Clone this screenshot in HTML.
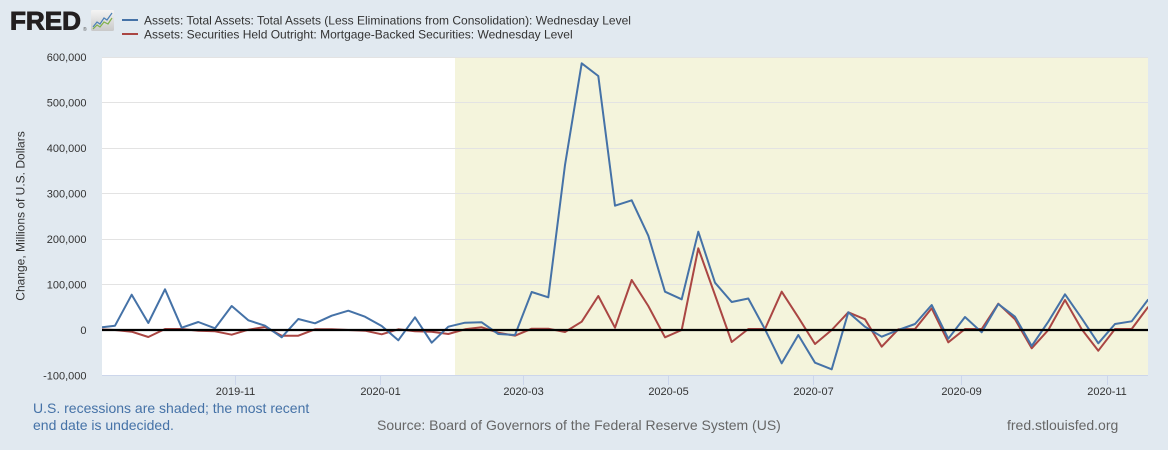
<!DOCTYPE html>
<html>
<head>
<meta charset="utf-8">
<style>
  html, body { margin: 0; padding: 0; background: #e1e9f0; }
  svg { display: block; }
  text { font-family: "Liberation Sans", Arial, sans-serif; }
</style>
</head>
<body>
<svg width="1168" height="450" viewBox="0 0 1168 450" xmlns="http://www.w3.org/2000/svg">
  <defs>
    <clipPath id="plot">
      <rect x="102" y="57" width="1046" height="318"/>
    </clipPath>
    <linearGradient id="ico" x1="0" y1="0" x2="0" y2="1">
      <stop offset="0" stop-color="#f4f4f4"/>
      <stop offset="1" stop-color="#c9c9c9"/>
    </linearGradient>
  </defs>
  <rect x="0" y="0" width="1168" height="450" fill="#e1e9f0"/>

  <!-- FRED logo -->
  <text x="10" y="29.5" font-size="25" font-weight="bold" fill="#231f20" stroke="#231f20" stroke-width="0.9" textLength="71" lengthAdjust="spacingAndGlyphs">FRED</text>
  <text x="83" y="31" font-size="5" fill="#555">®</text>
  <rect x="91" y="10" width="23" height="21" rx="1.5" fill="url(#ico)"/>
  <polyline points="93,27 97,22 100,24 104,18 107,20 112,13" fill="none" stroke="#4a7fb5" stroke-width="1.2"/>
  <polyline points="93,29 97,25 100,27 104,22 108,24 112,18" fill="none" stroke="#7fb04a" stroke-width="1.2"/>

  <!-- Legend -->
  <line x1="122" y1="20" x2="138" y2="20" stroke="#4572a7" stroke-width="2"/>
  <line x1="122" y1="34" x2="138" y2="34" stroke="#aa4643" stroke-width="2"/>
  <text x="144" y="24.3" font-size="12" fill="#333">Assets: Total Assets: Total Assets (Less Eliminations from Consolidation): Wednesday Level</text>
  <text x="144" y="38.3" font-size="12" fill="#333">Assets: Securities Held Outright: Mortgage-Backed Securities: Wednesday Level</text>

  <!-- Plot background -->
  <rect x="102" y="57" width="1046" height="318" fill="#ffffff"/>
  <rect x="455" y="57" width="693" height="318" fill="#f4f4dc"/>

  <!-- Grid lines -->
  <g stroke="#e3e3e3" stroke-width="1">
    <line x1="102" y1="57.5" x2="1148" y2="57.5"/>
    <line x1="102" y1="102.5" x2="1148" y2="102.5"/>
    <line x1="102" y1="148.5" x2="1148" y2="148.5"/>
    <line x1="102" y1="193.5" x2="1148" y2="193.5"/>
    <line x1="102" y1="239.5" x2="1148" y2="239.5"/>
    <line x1="102" y1="284.5" x2="1148" y2="284.5"/>
  </g>
  <!-- X axis line and ticks -->
  <line x1="102" y1="375.5" x2="1148" y2="375.5" stroke="#ccd6eb" stroke-width="1"/>
  <g stroke="#ccd6eb" stroke-width="1">
    <line x1="235.5" y1="375" x2="235.5" y2="385"/>
    <line x1="380.5" y1="375" x2="380.5" y2="385"/>
    <line x1="523.5" y1="375" x2="523.5" y2="385"/>
    <line x1="668.5" y1="375" x2="668.5" y2="385"/>
    <line x1="813.5" y1="375" x2="813.5" y2="385"/>
    <line x1="961.5" y1="375" x2="961.5" y2="385"/>
    <line x1="1107.5" y1="375" x2="1107.5" y2="385"/>
  </g>

  <!-- Y tick labels -->
  <g font-size="11" fill="#333" text-anchor="end">
    <text x="86.5" y="61">600,000</text>
    <text x="86.5" y="106.5">500,000</text>
    <text x="86.5" y="152">400,000</text>
    <text x="86.5" y="197.5">300,000</text>
    <text x="86.5" y="243">200,000</text>
    <text x="86.5" y="288.5">100,000</text>
    <text x="86.5" y="334">0</text>
    <text x="86.5" y="379.5">-100,000</text>
  </g>

  <!-- Y axis title -->
  <text x="0" y="0" font-size="12" fill="#333" text-anchor="middle" transform="translate(24.5,216) rotate(-90)">Change, Millions of U.S. Dollars</text>

  <!-- X tick labels -->
  <g font-size="11" fill="#333" text-anchor="middle">
    <text x="235.5" y="395">2019-11</text>
    <text x="380.5" y="395">2020-01</text>
    <text x="523.5" y="395">2020-03</text>
    <text x="668.5" y="395">2020-05</text>
    <text x="813.5" y="395">2020-07</text>
    <text x="961.5" y="395">2020-09</text>
    <text x="1107" y="395">2020-11</text>
  </g>

  <!-- Series -->
  <g clip-path="url(#plot)" fill="none" stroke-width="2" stroke-linejoin="round">
    <polyline stroke="#aa4643" points="
      102,329.5 115,330 131.7,331.7 148.3,337 165,329 181.7,329 198.3,330.7 215,331.3 231.7,334.7 248.3,329.7
      265,327 281.7,335.7 298.3,335.7 315,329.3 331.7,329.3 348.3,330 365,330.7 381.7,334.3 398.3,329.3 415,331.3
      431.7,331.7 448.3,334 465,329.3 481.7,327.3 498.3,332.7 515,335.7 531.7,328.7 548.3,328.7 565,332 581.7,321.7
      598.3,296 615,327.7 631.7,280 648.3,306 665,337.3 681.7,330 698.3,248.3 715,295 731.7,342 748.3,329
      765,329 781.7,291.7 798.3,317.3 815,344 831.7,330 848.3,312.3 865,319.3 881.7,346.7 898.3,329.3 915,329
      931.7,308.3 948.3,342.3 965,329 981.7,329 998.3,303.7 1015,319.3 1031.7,348.3 1048.3,330 1065,300 1081.7,329.3
      1098.3,350.7 1115,329 1131.7,329 1148.3,306.7"/>
    <polyline stroke="#4572a7" points="
      102,327.3 115,325.7 131.7,294.7 148.3,323 165,289.3 181.7,327.7 198.3,322 215,328.3 231.7,306 248.3,320.3
      265,325.7 281.7,337.3 298.3,319 315,323.3 331.7,315.7 348.3,310.7 365,316.7 381.7,326 398.3,340.3 415,317.3
      431.7,342.7 448.3,326.7 465,322.7 481.7,322.3 498.3,334 515,335 531.7,292 548.3,297.3 565,165 581.7,63.3
      598.3,76 615,205.7 631.7,200.3 648.3,235.7 665,291.7 681.7,299.3 698.3,231.7 715,282.7 731.7,302 748.3,298.5
      765,329.3 781.7,363.3 798.3,335 815,362.7 831.7,369.3 848.3,312.3 865,326.7 881.7,336.7 898.3,330 915,324
      931.7,305 948.3,338.7 965,317 981.7,332.3 998.3,304 1015,316.7 1031.7,346 1048.3,321.7 1065,294.3 1081.7,318.3
      1098.3,343.3 1115,324 1131.7,321.3 1148.3,299.3"/>
  </g>
  <!-- Zero line -->
  <line x1="102" y1="330" x2="1148" y2="330" stroke="#000" stroke-width="2.2"/>

  <!-- Footer -->
  <text x="33" y="413" font-size="14" fill="#4572a7">U.S. recessions are shaded; the most recent</text>
  <text x="33" y="430" font-size="14" fill="#4572a7">end date is undecided.</text>
  <text x="377" y="430" font-size="14" fill="#666">Source: Board of Governors of the Federal Reserve System (US)</text>
  <text x="1007" y="430" font-size="14" fill="#666">fred.stlouisfed.org</text>
</svg>
</body>
</html>
